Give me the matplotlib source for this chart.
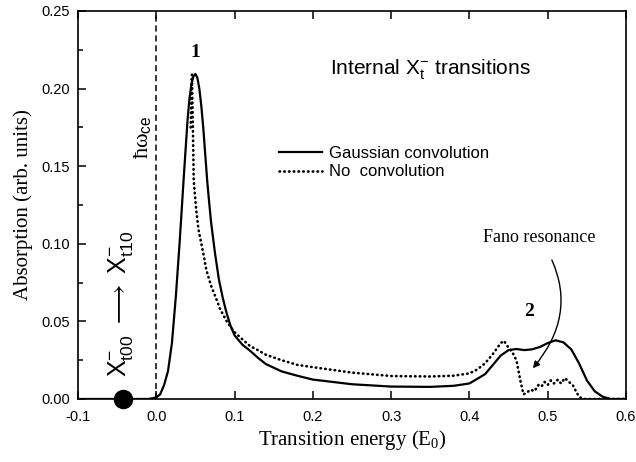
import numpy as np
import matplotlib
matplotlib.use("Agg")
import matplotlib.pyplot as plt

plt.rcParams['font.family'] = ['Liberation Sans', 'DejaVu Sans']
plt.rcParams['mathtext.fontset'] = 'custom'
plt.rcParams['mathtext.rm'] = 'Liberation Sans'
plt.rcParams['mathtext.it'] = 'Liberation Sans:italic'
plt.rcParams['mathtext.bf'] = 'Liberation Sans:bold'
# serif subscript for the x label goes through \mathsf
plt.rcParams['mathtext.sf'] = 'Liberation Serif'

# Gaussian convolution (solid)
x_gauss = [-0.1, -0.01, 0.0, 0.005, 0.01, 0.015, 0.02, 0.025, 0.03, 0.035,
           0.04, 0.0425, 0.045, 0.0475, 0.05, 0.0525, 0.055, 0.0575, 0.06, 0.0625,
           0.065, 0.0675, 0.07, 0.075, 0.08, 0.085, 0.09, 0.095,
           0.1, 0.11, 0.12, 0.13, 0.14, 0.16, 0.18, 0.2, 0.25, 0.3, 0.35, 0.38,
           0.4, 0.42, 0.43, 0.44, 0.45, 0.46, 0.47, 0.48, 0.49, 0.5, 0.51,
           0.52, 0.53, 0.54, 0.55, 0.56, 0.57, 0.58, 0.6]
y_gauss = [0.0, 0.0, 0.001, 0.003, 0.009, 0.018, 0.036, 0.066, 0.102, 0.142,
           0.180, 0.194, 0.203, 0.208, 0.2094, 0.207, 0.200, 0.189, 0.175, 0.158,
           0.141, 0.127, 0.114, 0.094, 0.077, 0.065, 0.055, 0.047,
           0.041, 0.035, 0.031, 0.0265, 0.0225, 0.0178, 0.015, 0.0125, 0.0095, 0.008, 0.0078, 0.0085,
           0.010, 0.016, 0.022, 0.028, 0.0315, 0.0322, 0.0315, 0.032, 0.0335, 0.036, 0.0378,
           0.0365, 0.032, 0.023, 0.012, 0.005, 0.0015, 0.0, 0.0]

# no convolution (dotted)
x_raw = [0.044, 0.0455, 0.0468, 0.0478, 0.051, 0.054, 0.06, 0.064, 0.07, 0.077,
         0.0815, 0.09, 0.1, 0.111, 0.12, 0.128, 0.14, 0.16, 0.18, 0.2,
         0.25, 0.3, 0.35, 0.38, 0.4, 0.41, 0.42, 0.43, 0.44, 0.444,
         0.45, 0.455, 0.46, 0.465, 0.469, 0.473, 0.478, 0.483, 0.488, 0.492,
         0.496, 0.5, 0.504, 0.508, 0.513, 0.517, 0.522, 0.527, 0.532, 0.536,
         0.54, 0.545, 0.6]
y_raw = [0.175, 0.209, 0.175, 0.141, 0.122, 0.109, 0.094, 0.083, 0.073, 0.064,
         0.058, 0.050, 0.043, 0.038, 0.034, 0.032, 0.0285, 0.025, 0.022, 0.0205,
         0.017, 0.0148, 0.0145, 0.015, 0.0165, 0.019, 0.023, 0.029, 0.036, 0.0375,
         0.033, 0.030, 0.025, 0.012, 0.003, 0.004, 0.006, 0.005, 0.009, 0.008,
         0.011, 0.009, 0.012, 0.010, 0.0125, 0.010, 0.0135, 0.011, 0.009, 0.005,
         0.0015, 0.0, 0.0]

fig = plt.figure(figsize=(6.36, 4.62), dpi=100)
ax = fig.add_axes([0.1226, 0.1364, 0.8617, 0.8398])

ax.plot(x_gauss, y_gauss, color='black', lw=1.6, label='Gaussian convolution')
ax.plot(x_raw, y_raw, color='black', lw=1.9, linestyle=(0, (0.2, 1.6)),
        dash_capstyle='round', label='No  convolution')

ax.axvline(0.0, color='black', lw=1.1, linestyle=(0, (4, 2.5)))

ax.set_xlim(-0.1, 0.6)
ax.set_ylim(0.0, 0.25)
ax.set_xticks(np.arange(-0.1, 0.61, 0.1))
ax.set_xticklabels(['-0.1', '0.0', '0.1', '0.2', '0.3', '0.4', '0.5', '0.6'])
ax.set_yticks(np.arange(0, 0.251, 0.05))
ax.set_yticklabels(['0.00', '0.05', '0.10', '0.15', '0.20', '0.25'])
ax.set_yticks(np.arange(0.025, 0.25, 0.05), minor=True)
ax.tick_params(which='both', direction='in', top=True, right=False, labelsize=10.5, width=1.1)
ax.tick_params(which='major', length=6, pad=6)
ax.tick_params(axis='x', which='major', pad=8)
ax.tick_params(which='minor', length=3.5)
for sp in ax.spines.values():
    sp.set_linewidth(1.2)

ax.set_xlabel(r'Transition energy (E$_\mathsf{0}$)', family='Liberation Serif', fontsize=15, labelpad=3)
ax.set_ylabel('Absorption (arb. units)', family='Liberation Serif', fontsize=15, labelpad=6)

ax.legend(loc='upper left', bbox_to_anchor=(0.367, 0.652), frameon=False, fontsize=12,
          handlelength=2.6, handletextpad=0.4, labelspacing=0.2, borderpad=0, borderaxespad=0)

ax.text(0.2217, 0.212, r'Internal X$^{-}_{\rm t}$ transitions', fontsize=15, va='center', ha='left')
ax.text(0.05, 0.223, '1', family='Liberation Serif', weight='bold', fontsize=14, ha='center', va='center')
ax.text(0.476, 0.0563, '2', family='Liberation Serif', weight='bold', fontsize=14, ha='center', va='center')
ax.text(-0.017, 0.169, r'ħω$_{\rm ce}$', family='Liberation Serif', fontsize=16,
        rotation=90, ha='center', va='center')
ax.text(-0.046, 0.061, r'X$^{-}_{\rm t00}$ $\longrightarrow$ X$^{-}_{\rm t10}$', fontsize=18,
        rotation=90, ha='center', va='center')
ax.plot([-0.043], [0.0], 'o', color='black', ms=13, clip_on=False, zorder=5)

ax.annotate('Fano resonance', xy=(0.481, 0.0198), xytext=(0.489, 0.104),
            family='Liberation Serif', fontsize=13, ha='center', va='center',
            arrowprops=dict(arrowstyle='-|>', color='black', lw=1.0, shrinkA=9, shrinkB=0,
                            mutation_scale=10, connectionstyle='arc3,rad=-0.38'))

plt.savefig('out.png', dpi=100)
